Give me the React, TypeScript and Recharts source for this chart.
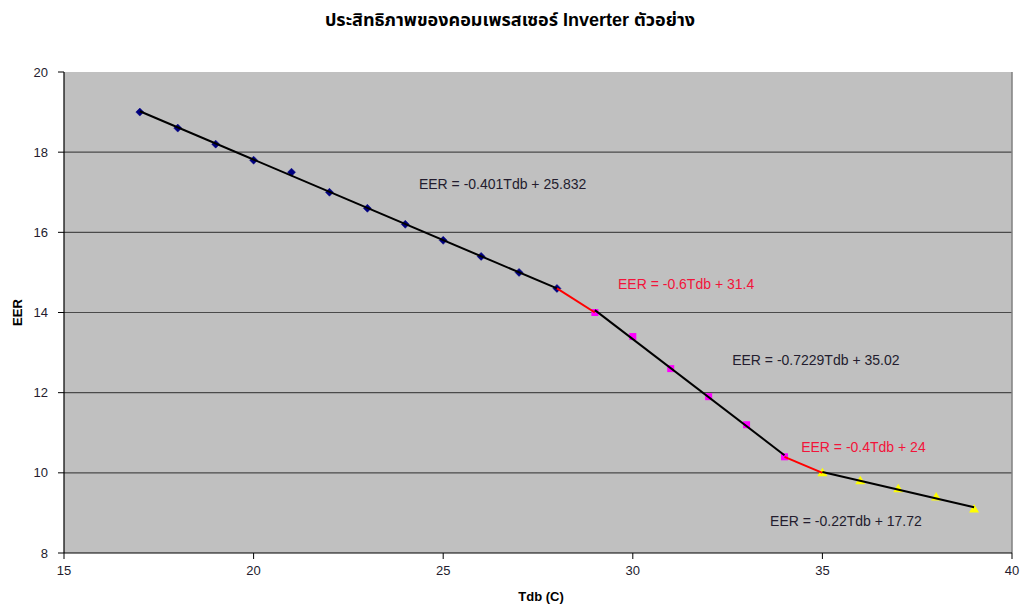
import React from 'react';
import {
  ComposedChart,
  Scatter,
  XAxis,
  YAxis,
  CartesianGrid,
  ReferenceDot,
  ReferenceLine,
  Label,
} from 'recharts';

// ---- data ----
const tdbBlue = [17, 18, 19, 20, 21, 22, 23, 24, 25, 26, 27, 28];
const eerBlue = [19.0, 18.6, 18.2, 17.8, 17.5, 17.0, 16.6, 16.2, 15.8, 15.4, 15.0, 14.6];
const tdbMagenta = [29, 30, 31, 32, 33, 34];
const eerMagenta = [14.0, 13.4, 12.6, 11.9, 11.2, 10.4];
const tdbYellow = [35, 36, 37, 38, 39];
const eerYellow = [10.0, 9.8, 9.6, 9.4, 9.1];

// trend line segments (endpoints)
const trendTdb = [
  [17, 28],
  [28, 29],
  [29, 34],
  [34, 35],
  [35, 39],
];
const trendEer = [
  [19.02, 14.6],
  [14.6, 14.0],
  [14.06, 10.44],
  [10.4, 10.0],
  [10.02, 9.14],
];
const trendIsRed = [false, true, false, true, false];

const equations = [
  'EER = -0.401Tdb + 25.832',
  'EER = -0.6Tdb + 31.4',
  'EER = -0.7229Tdb + 35.02',
  'EER = -0.4Tdb + 24',
  'EER = -0.22Tdb + 17.72',
];
// anchor (data coords) of each equation label
const eqAnchorTdb = [24.36, 29.61, 32.62, 34.44, 33.62];
const eqAnchorEer = [17.18, 14.69, 12.79, 10.62, 8.77];

const xTicks = [15, 20, 25, 30, 35, 40];
const yTicks = [8, 10, 12, 14, 16, 18, 20];
const gridValues = [10, 12, 14, 16, 18];

const title = 'ประสิทธิภาพของคอมเพรสเซอร์ Inverter ตัวอย่าง';

const zip = (xs: number[], ys: number[]) => xs.map((x, i) => ({ x, y: ys[i] }));

const FONT = '"Liberation Sans", Arial, "Noto Sans", "Noto Sans Thai", sans-serif';
const RED = '#F2143A';
const DARK = '#231c2e';

const Diamond = (p: any) => {
  const { cx, cy } = p;
  if (cx == null || cy == null) return <g />;
  const r = 4;
  return (
    <polygon
      points={`${cx},${cy - r} ${cx + r},${cy} ${cx},${cy + r} ${cx - r},${cy}`}
      fill="#000080"
      stroke="#000080"
      strokeWidth={0.5}
    />
  );
};

const Square = (p: any) => {
  const { cx, cy } = p;
  if (cx == null || cy == null) return <g />;
  const r = 3.5;
  return <rect x={cx - r} y={cy - r} width={2 * r} height={2 * r} fill="#FF00FF" />;
};

const Triangle = (p: any) => {
  const { cx, cy } = p;
  if (cx == null || cy == null) return <g />;
  const r = 5;
  return (
    <polygon
      points={`${cx},${cy - r} ${cx + r},${cy + r * 0.7} ${cx - r},${cy + r * 0.7}`}
      fill="#FFFF00"
    />
  );
};

const NoShape = () => <g />;

export default function App() {
  return (
    <div
      style={{
        position: 'absolute',
        left: 0,
        top: 0,
        width: 1020,
        height: 606,
        background: '#ffffff',
        fontFamily: FONT,
      }}
    >
      <div
        style={{
          position: 'absolute',
          left: 0,
          top: 8,
          width: 1020,
          textAlign: 'center',
          fontWeight: 'bold',
          fontSize: 18,
          color: '#000',
          lineHeight: '24px',
        }}
      >
        {title}
      </div>
      <ComposedChart
        width={1020}
        height={606}
        margin={{ top: 72, right: 8, bottom: 8, left: 10 }}
        style={{ fontFamily: FONT }}
      >
        <CartesianGrid
          fill="#C0C0C0"
          stroke="#4a4a4a"
          vertical={false}
          horizontalValues={gridValues}
          strokeWidth={1.2}
        />
        <XAxis
          type="number"
          dataKey="x"
          domain={[15, 40]}
          ticks={xTicks}
          allowDataOverflow
          height={45}
          stroke="#000"
          tickSize={6}
          tickMargin={7}
          tick={{ fill: DARK, fontSize: 13 }}
          tickLine={{ stroke: '#000' }}
          axisLine={{ stroke: '#000', strokeWidth: 1.2 }}
        >
          <Label
            content={(props: any) => {
              const vb = props.viewBox || {};
              return (
                <text
                  x={vb.x + vb.width / 2 + 3}
                  y={vb.y + 45}
                  textAnchor="middle"
                  dominantBaseline="middle"
                  fontWeight="bold"
                  fontSize={13}
                  fill="#000"
                >
                  Tdb (C)
                </text>
              );
            }}
          />
        </XAxis>
        <YAxis
          type="number"
          dataKey="y"
          domain={[8, 20]}
          ticks={yTicks}
          allowDataOverflow
          width={54}
          stroke="#000"
          tickSize={6}
          tickMargin={10}
          tick={{ fill: DARK, fontSize: 13 }}
          tickLine={{ stroke: '#000' }}
          axisLine={{ stroke: '#000', strokeWidth: 1.2 }}
        >
          <Label
            content={(props: any) => {
              const vb = props.viewBox || {};
              const cx = vb.x + 9;
              const cy = vb.y + vb.height / 2;
              return (
                <text
                  x={cx}
                  y={cy}
                  textAnchor="middle"
                  dominantBaseline="middle"
                  fontWeight="bold"
                  fontSize={13}
                  fill="#000"
                  transform={`rotate(-90 ${cx} ${cy})`}
                >
                  EER
                </text>
              );
            }}
          />
        </YAxis>
        <ReferenceLine x={40} stroke="#808080" strokeWidth={1.5} ifOverflow="visible" />

        <Scatter data={zip(tdbBlue, eerBlue)} shape={Diamond} isAnimationActive={false} />
        <Scatter data={zip(tdbMagenta, eerMagenta)} shape={Square} isAnimationActive={false} />
        <Scatter data={zip(tdbYellow, eerYellow)} shape={Triangle} isAnimationActive={false} />

        {trendTdb.map((xs, i) => (
          <Scatter
            key={'t' + i}
            data={zip(xs, trendEer[i])}
            shape={NoShape}
            line={{ stroke: trendIsRed[i] ? '#FF0000' : '#000', strokeWidth: 2 }}
            isAnimationActive={false}
          />
        ))}

        {equations.map((eq, i) => (
          <ReferenceDot
            key={'e' + i}
            x={eqAnchorTdb[i]}
            y={eqAnchorEer[i]}
            ifOverflow="visible"
            shape={(p: any) => (
              <text
                x={p.cx}
                y={p.cy}
                textAnchor="start"
                dominantBaseline="middle"
                fontSize={14}
                fill={trendIsRed[i] ? RED : DARK}
              >
                {eq}
              </text>
            )}
          />
        ))}
      </ComposedChart>
    </div>
  );
}
